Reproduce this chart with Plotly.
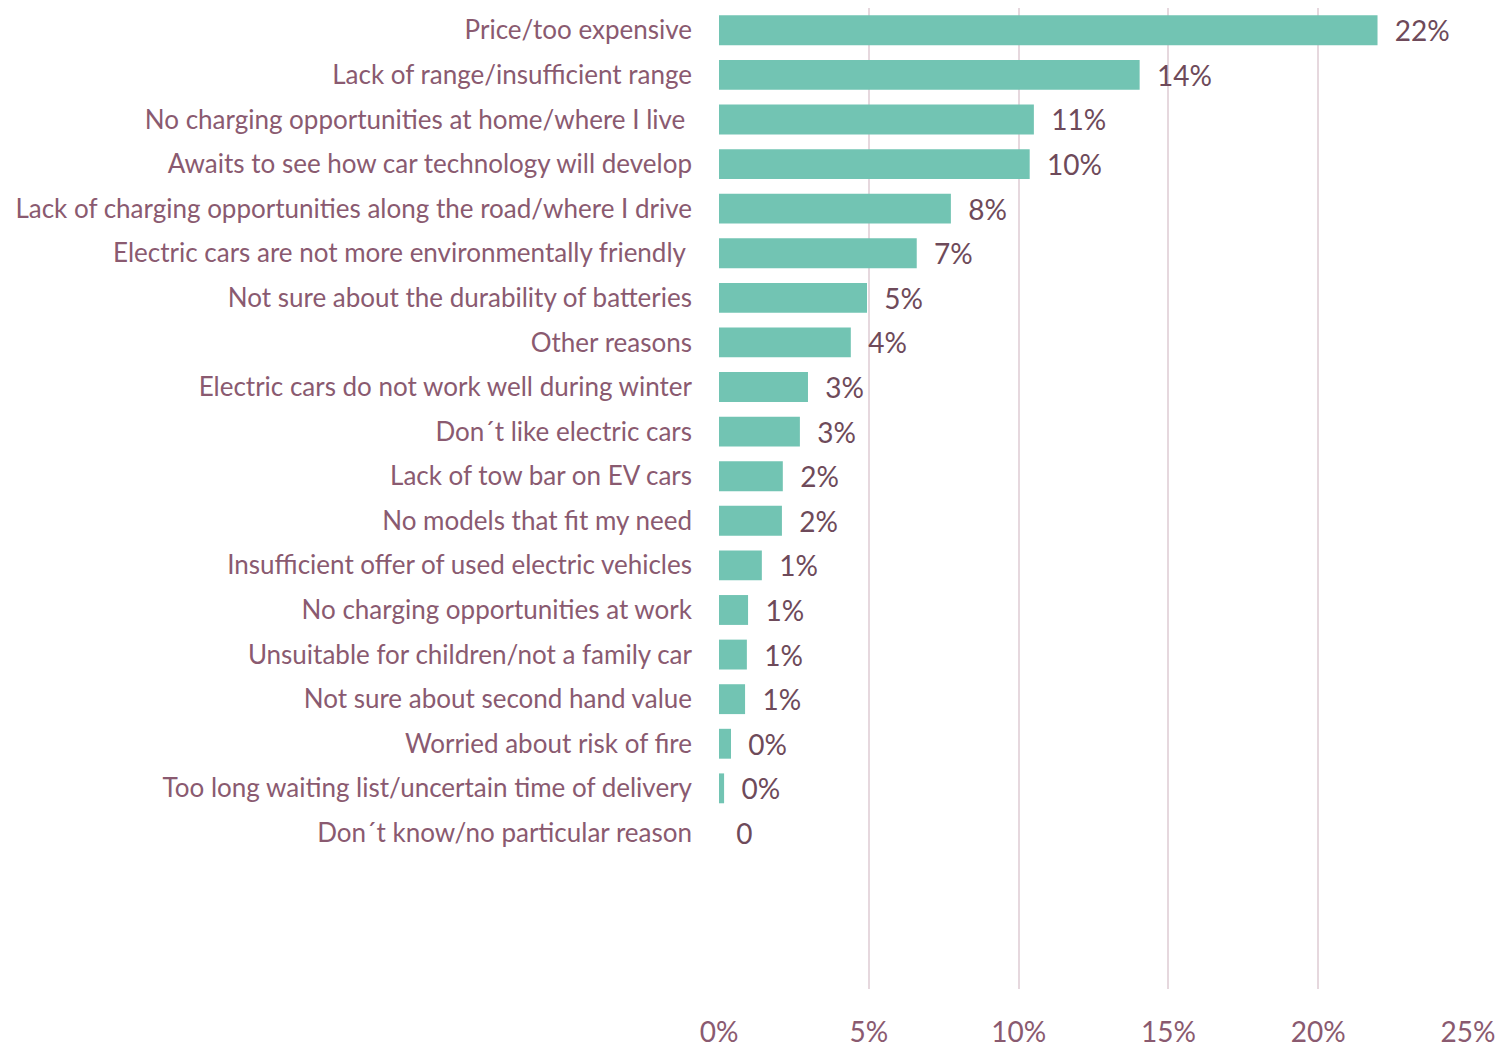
import plotly.graph_objects as go

categories = [
    "Price/too expensive",
    "Lack of range/insufficient range",
    "No charging opportunities at home/where I live ",
    "Awaits to see how car technology will develop",
    "Lack of charging opportunities along the road/where I drive",
    "Electric cars are not more environmentally friendly ",
    "Not sure about the durability of batteries",
    "Other reasons",
    "Electric cars do not work well during winter",
    "Don´t like electric cars",
    "Lack of tow bar on EV cars",
    "No models that fit my need",
    "Insufficient offer of used electric vehicles",
    "No charging opportunities at work",
    "Unsuitable for children/not a family car",
    "Not sure about second hand value",
    "Worried about risk of fire",
    "Too long waiting list/uncertain time of delivery",
    "Don´t know/no particular reason",
]
values = [0.2198, 0.1404, 0.1051, 0.1037, 0.0774, 0.0660, 0.0494, 0.0440,
          0.0297, 0.0270, 0.0213, 0.0210, 0.0143, 0.0097, 0.0093, 0.0087,
          0.0040, 0.0017, 0.0]
value_labels = ["22%", "14%", "11%", "10%", "8%", "7%", "5%", "4%", "3%", "3%",
                "2%", "2%", "1%", "1%", "1%", "1%", "0%", "0%", "0"]
x_ticks = [0, 0.05, 0.10, 0.15, 0.20, 0.25]
x_tick_labels = ["0%", "5%", "10%", "15%", "20%", "25%"]
n_rows = 22  # includes empty rows at the bottom of the chart area

positions = list(range(len(categories)))

label_color = "#8A5A70"
value_color = "#6E4A5A"
grid_color = "#E6D8DE"
font_family = "Lato, 'Open Sans', sans-serif"

fig = go.Figure()
fig.add_trace(go.Bar(
    x=values,
    y=positions,
    orientation="h",
    width=0.67,
    marker=dict(color="#72C4B3", line=dict(width=0)),
    text=value_labels,
    texttemplate="  %{text}",
    textposition="outside",
    constraintext="none",
    cliponaxis=False,
    textfont=dict(family=font_family, size=28, color=value_color),
    hoverinfo="skip",
))

fig.update_layout(
    width=1498,
    height=1040,
    margin=dict(l=711, r=38, t=0, b=57),
    paper_bgcolor="white",
    plot_bgcolor="white",
    showlegend=False,
    font=dict(family=font_family, color=label_color),
)
fig.update_xaxes(
    range=[0, 0.25],
    tickvals=x_ticks,
    ticktext=x_tick_labels,
    showgrid=True,
    gridcolor=grid_color,
    gridwidth=2,
    zeroline=False,
    showline=False,
    ticks="",
    ticklabelstandoff=24,
    tickfont=dict(family=font_family, size=28, color=label_color),
)
fig.update_yaxes(
    range=[n_rows - 0.5, -0.5],
    tickvals=positions,
    ticktext=categories,
    showgrid=False,
    zeroline=False,
    showline=False,
    ticks="",
    ticklabelstandoff=26,
    tickfont=dict(family=font_family, size=26, color=label_color),
)

fig.write_html("out.html")
